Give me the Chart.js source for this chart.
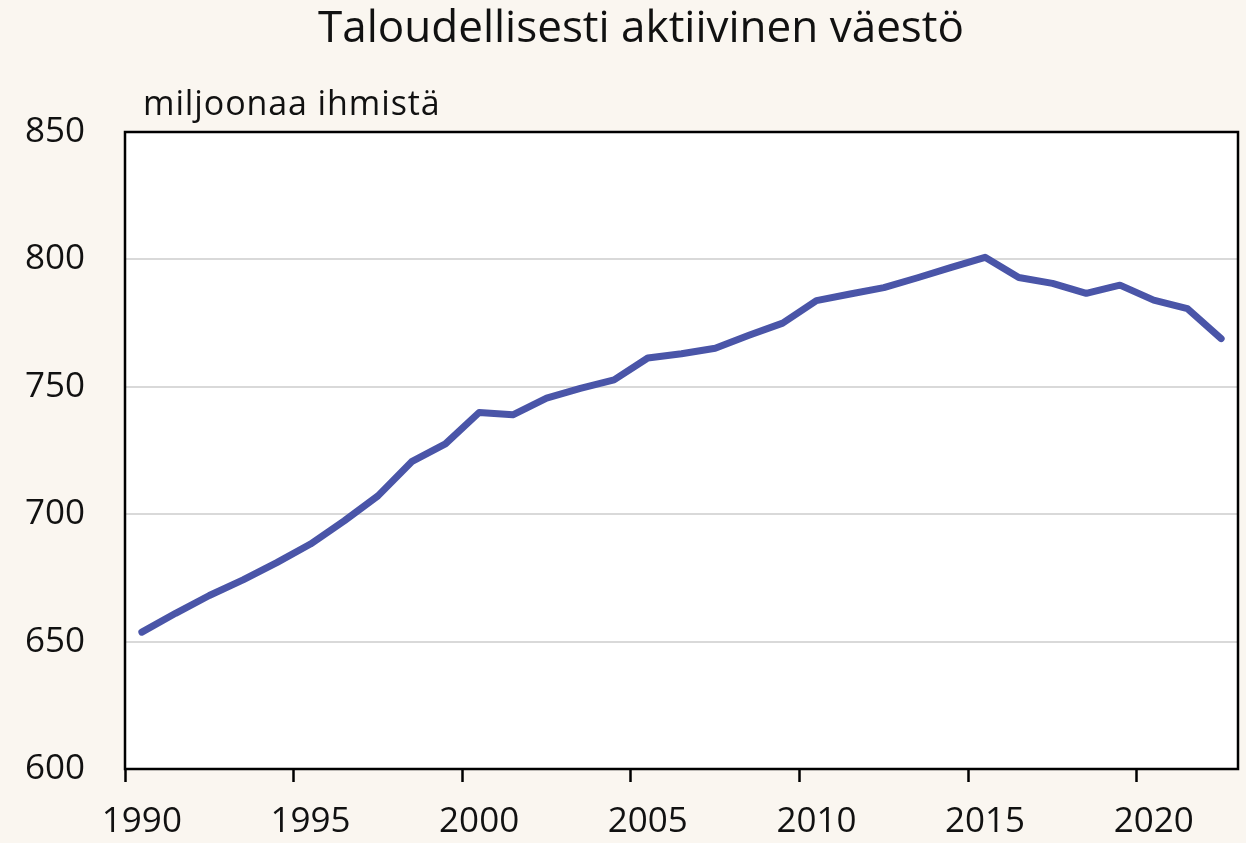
<!DOCTYPE html>
<html>
<head>
<meta charset="utf-8">
<script src="https://cdn.jsdelivr.net/npm/chart.js@4.4.1/dist/chart.umd.min.js"></script>
<style>
  html, body { margin: 0; padding: 0; background: #faf6f0; }
  #wrap { width: 1246px; height: 843px; }
</style>
</head>
<body>
<div id="wrap"><canvas id="c" width="1246" height="843"></canvas></div>
<script>
const years = ["1990","1991","1992","1993","1994","1995","1996","1997","1998","1999",
               "2000","2001","2002","2003","2004","2005","2006","2007","2008","2009",
               "2010","2011","2012","2013","2014","2015","2016","2017","2018","2019",
               "2020","2021","2022"];
const activePopulation = [653.7, 661.1, 668.1, 674.2, 681.0, 688.3, 697.4, 707.2, 720.6, 727.6,
                          739.9, 739.0, 745.6, 749.4, 752.7, 761.3, 763.0, 765.1, 770.2, 775.0,
                          783.8, 786.4, 788.9, 792.8, 796.9, 800.8, 792.9, 790.6, 786.7, 789.9,
                          784.0, 780.7, 768.9];
const yTicks = [600, 650, 700, 750, 800, 850];
const titleText = "Taloudellisesti aktiivinen väestö";
const unitText = "miljoonaa ihmistä";

const FONT = "'Open Sans', 'Noto Sans', sans-serif";

const framePlugin = {
  id: 'frame',
  beforeDraw(chart) {
    const {ctx, chartArea: a} = chart;
    ctx.save();
    ctx.fillStyle = '#faf6f0';
    ctx.fillRect(0, 0, chart.width, chart.height);
    ctx.fillStyle = '#ffffff';
    ctx.fillRect(a.left, a.top, a.right - a.left, a.bottom - a.top);
    ctx.restore();
  },
  afterDraw(chart) {
    const {ctx, chartArea: a} = chart;
    ctx.save();
    ctx.strokeStyle = '#000000';
    ctx.lineWidth = 2.5;
    ctx.strokeRect(a.left, a.top, a.right - a.left, a.bottom - a.top);
    ctx.fillStyle = '#111111';
    ctx.textBaseline = 'alphabetic';
    ctx.textAlign = 'center';
    ctx.font = "44px " + FONT;
    ctx.fillText(titleText, 641, 42);
    ctx.textAlign = 'left';
    ctx.font = "34px " + FONT;
    ctx.letterSpacing = "0.9px";
    ctx.fillText(unitText, 143, 115);
    ctx.letterSpacing = "0px";
    ctx.restore();
  }
};

new Chart(document.getElementById('c'), {
  type: 'line',
  data: {
    labels: years,
    datasets: [{
      data: activePopulation,
      borderColor: '#4a55a8',
      borderWidth: 7,
      pointRadius: 0,
      tension: 0,
      borderCapStyle: 'round',
      borderJoinStyle: 'round',
      fill: false
    }]
  },
  options: {
    responsive: false,
    animation: false,
    layout: { padding: { top: 132, right: 8, left: 0, bottom: 0 } },
    plugins: { legend: { display: false }, tooltip: { enabled: false }, title: { display: false } },
    scales: {
      x: {
        type: 'category',
        offset: true,
        grid: {
          offset: true,
          drawOnChartArea: false,
          drawTicks: true,
          tickLength: 13,
          tickWidth: 2.5,
          tickColor: (ctx) => (ctx.index % 5 === 0 ? '#000000' : 'rgba(0,0,0,0)')
        },
        border: { display: false },
        ticks: {
          autoSkip: false,
          maxRotation: 0,
          minRotation: 0,
          padding: 19,
          color: '#111111',
          font: { family: FONT, size: 35 },
          callback: (v, i) => (i % 5 === 0 ? years[i] : '')
        },
        afterFit: (s) => { s.height = 74; }
      },
      y: {
        min: 600,
        max: 850,
        afterBuildTicks: (s) => { s.ticks = yTicks.map(v => ({ value: v })); },
        grid: {
          drawTicks: false,
          color: (ctx) => (ctx.tick && (ctx.tick.value === 600 || ctx.tick.value === 850) ? 'rgba(0,0,0,0)' : '#d9d9d9'),
          lineWidth: 2
        },
        border: { display: false },
        ticks: {
          padding: 40,
          color: '#111111',
          font: { family: FONT, size: 35 }
        },
        afterFit: (s) => { s.width = 125; }
      }
    }
  },
  plugins: [framePlugin]
});
</script>
</body>
</html>
